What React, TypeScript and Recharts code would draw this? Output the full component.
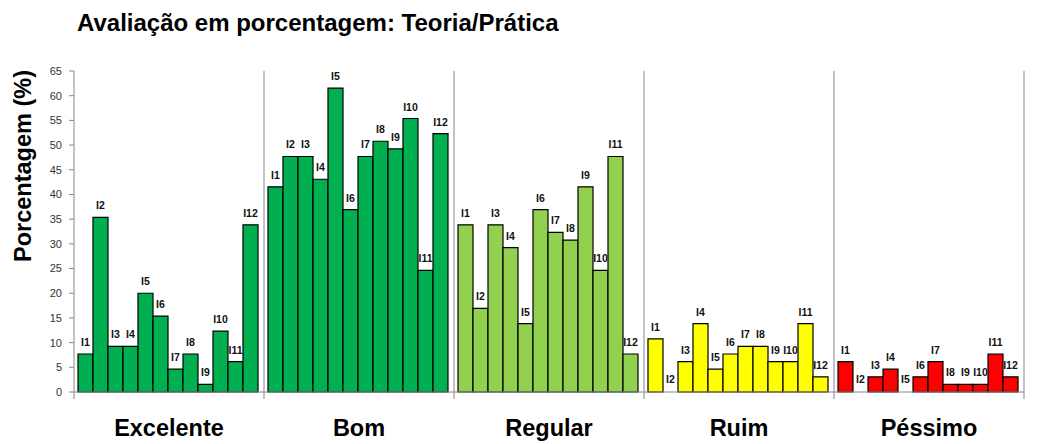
import React from 'react';
import { BarChart, Bar, XAxis, YAxis, Cell, LabelList, ReferenceLine } from 'recharts';

const categories = ['Excelente', 'Bom', 'Regular', 'Ruim', 'Péssimo'];
const items = ['I1', 'I2', 'I3', 'I4', 'I5', 'I6', 'I7', 'I8', 'I9', 'I10', 'I11', 'I12'];
const excelente = [7.69, 35.38, 9.23, 9.23, 20.0, 15.38, 4.62, 7.69, 1.54, 12.31, 6.15, 33.85];
const bom = [41.54, 47.69, 47.69, 43.08, 61.54, 36.92, 47.69, 50.77, 49.23, 55.38, 24.62, 52.31];
const regular = [33.85, 16.92, 33.85, 29.23, 13.85, 36.92, 32.31, 30.77, 41.54, 24.62, 47.69, 7.69];
const ruim = [10.77, 0, 6.15, 13.85, 4.62, 7.69, 9.23, 9.23, 6.15, 6.15, 13.85, 3.08];
const pessimo = [6.15, 0, 3.08, 4.62, 0, 3.08, 6.15, 1.54, 1.54, 1.54, 7.69, 3.08];
const categoryColors = ['#00B050', '#00B050', '#92D050', '#FFFF00', '#FF0000'];
const yTicks = [0, 5, 10, 15, 20, 25, 30, 35, 40, 45, 50, 55, 60, 65];

const title = 'Avaliação em porcentagem: Teoria/Prática';
const yLabel = 'Porcentagem (%)';

const seriesByCategory = [excelente, bom, regular, ruim, pessimo];
const data = categories.map((name, ci) => {
  const row: Record<string, any> = { name };
  items.forEach((it, ii) => {
    row[it] = seriesByCategory[ci][ii];
  });
  return row;
});

const FONT = '"Liberation Sans", Arial, sans-serif';
const AXIS_GRAY = '#888888';

const CategoryTick = (props: any) => {
  const { x, y, payload, index, width } = props;
  const band = payload && payload.offset ? payload.offset * 2 : width / categories.length;
  return (
    <g>
      {index === 0 && (
        <line x1={x - band / 2} x2={x - band / 2} y1={y} y2={y + 7} stroke={AXIS_GRAY} strokeWidth={1} />
      )}
      <line x1={x + band / 2} x2={x + band / 2} y1={y} y2={y + 7} stroke={AXIS_GRAY} strokeWidth={1} />
      <text x={x} y={y + 44} textAnchor="middle" fontSize={23.5} fontWeight="bold" fill="#000" fontFamily={FONT}>
        {payload.value}
      </text>
    </g>
  );
};

const makeBarLabel = (name: string) => (props: any) => {
  const { x, y, width, height } = props;
  const top = Math.min(Number(y), Number(y) + Number(height || 0));
  return (
    <text
      x={Number(x) + Number(width) / 2}
      y={top - 8}
      textAnchor="middle"
      fontSize={10.5}
      fontWeight="bold"
      fill="#111"
      fontFamily={FONT}
    >
      {name}
    </text>
  );
};

// zero values still get a (hidden) 1px placeholder so their item label is drawn
const zeroPlaceholder = (value: any) => (Number(value) === 0 ? 1 : 0);

export default function App() {
  return (
    <div style={{ position: 'absolute', left: 0, top: 0, width: 1037, height: 444, background: '#fff', fontFamily: FONT }}>
      <BarChart
        width={1037}
        height={444}
        data={data}
        margin={{ top: 71, right: 13, bottom: 12, left: 24 }}
        barCategoryGap={4}
        barGap={0}
      >
        <XAxis
          dataKey="name"
          type="category"
          height={40}
          axisLine={{ stroke: AXIS_GRAY, strokeWidth: 1 }}
          tickLine={false}
          tickSize={0}
          tickMargin={0}
          interval={0}
          tick={<CategoryTick />}
        />
        <YAxis
          width={50}
          domain={[0, 65]}
          ticks={yTicks}
          interval={0}
          axisLine={{ stroke: AXIS_GRAY, strokeWidth: 1 }}
          tickLine={{ stroke: AXIS_GRAY }}
          tickSize={5}
          tickMargin={7}
          tick={{ fontSize: 11, fill: '#333', fontFamily: FONT }}
        />
        {items.map((key) => (
          <Bar
            key={key}
            dataKey={key}
            isAnimationActive={false}
            stroke="#000"
            strokeWidth={1.2}
            minPointSize={zeroPlaceholder as any}
          >
            {data.map((row, ci) =>
              row[key] === 0 ? (
                <Cell key={ci} fill="none" stroke="none" />
              ) : (
                <Cell key={ci} fill={categoryColors[ci]} />
              )
            )}
            <LabelList dataKey={key} content={makeBarLabel(key)} />
          </Bar>
        ))}
        {categories.slice(1).map((c) => (
          <ReferenceLine key={c} x={c} position="start" stroke={AXIS_GRAY} strokeWidth={1} />
        ))}
        <ReferenceLine x={categories[categories.length - 1]} position="end" stroke={AXIS_GRAY} strokeWidth={1} />
      </BarChart>
      <svg width={1037} height={444} style={{ position: 'absolute', left: 0, top: 0, pointerEvents: 'none' }}>
        <text x={77} y={31} fontSize={24} fontWeight="bold" fill="#000" fontFamily={FONT}>
          {title}
        </text>
        <text
          x={0}
          y={0}
          transform="translate(31,166) rotate(-90)"
          textAnchor="middle"
          fontSize={23.5}
          fontWeight="bold"
          fill="#000"
          fontFamily={FONT}
        >
          {yLabel}
        </text>
      </svg>
    </div>
  );
}
